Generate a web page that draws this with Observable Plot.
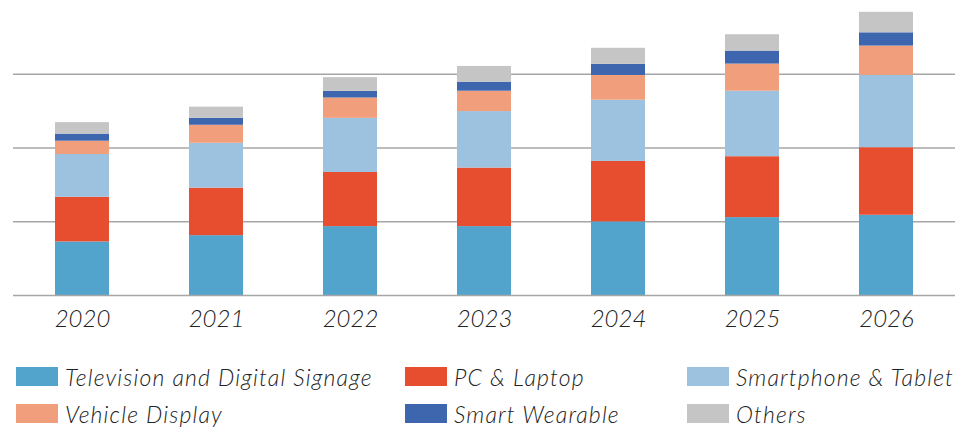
<!DOCTYPE html>
<html>
<head>
<meta charset="utf-8">
<script src="https://cdn.jsdelivr.net/npm/d3@7"></script>
<script src="https://cdn.jsdelivr.net/npm/@observablehq/plot@0.6"></script>
<style>
  html, body { margin: 0; padding: 0; background: #fff; }
  #wrap { position: relative; width: 955px; height: 427px; font-family: Lato, "Open Sans", sans-serif; overflow: hidden; }
  .leg { position: absolute; display: flex; align-items: center; font-style: italic; font-weight: 300; font-size: 23px; letter-spacing: 1.15px; color: #222; white-space: nowrap; }
  .sw { width: 42px; height: 19px; margin-right: 7px; flex: none; }
</style>
</head>
<body>
<div id="wrap"><div id="chart"></div></div>
<script>
const years = ["2020", "2021", "2022", "2023", "2024", "2025", "2026"];
const seriesNames = ["Television and Digital Signage", "PC & Laptop", "Smartphone & Tablet", "Vehicle Display", "Smart Wearable", "Others"];
const colors = ["#52a4cc", "#e74e30", "#9dc2df", "#f19e7c", "#3d66af", "#c5c5c5"];
const television = [36.3, 40.6, 46.7, 46.7, 49.9, 52.8, 54.4];
const pcLaptop   = [30.3, 32.2, 36.7, 39.7, 41.0, 41.3, 45.8];
const smartphone = [29.0, 30.4, 36.7, 38.3, 41.5, 44.4, 49.0];
const vehicle    = [9.0, 12.2, 13.8, 13.8, 16.8, 18.4, 19.9];
const wearable   = [4.8, 4.8, 4.5, 6.1, 7.5, 8.8, 9.0];
const others     = [7.8, 7.5, 9.3, 10.7, 10.9, 11.1, 13.9];
const gridValues = [0, 50, 100, 150];

const seriesValues = [television, pcLaptop, smartphone, vehicle, wearable, others];
const data = [];
years.forEach((yr, i) => {
  seriesNames.forEach((s, j) => data.push({year: yr, series: s, value: seriesValues[j][i]}));
});

const chart = Plot.plot({
  width: 955,
  height: 345,
  marginLeft: 13,
  marginRight: 0,
  marginTop: 0,
  marginBottom: 50,
  style: {fontFamily: "Lato, 'Open Sans', sans-serif", background: "white"},
  x: {domain: years, paddingInner: 0.6, paddingOuter: 0.3, label: null},
  y: {domain: [0, 200], axis: null},
  color: {domain: seriesNames, range: colors},
  marks: [
    Plot.ruleY(gridValues.slice(1), {stroke: "#a6a6a6", strokeWidth: 1.5}),
    Plot.barY(data, {x: "year", y: "value", fill: "series"}),
    Plot.ruleY([0], {stroke: "#a6a6a6", strokeWidth: 1.5}),
    Plot.axisX({tickSize: 0, tickPadding: 14, fontSize: 24, label: null})
  ]
});
chart.querySelectorAll('[aria-label="x-axis tick label"] text').forEach(t => {
  t.setAttribute("font-style", "italic");
  t.setAttribute("font-weight", "300");
  t.setAttribute("fill", "#222");
});
document.getElementById("chart").appendChild(chart);

const legendPos = [
  [16, 367], [405, 367], [687, 367],
  [16, 404], [405, 404], [687, 404]
];
const wrap = document.getElementById("wrap");
seriesNames.forEach((s, i) => {
  const d = document.createElement("div");
  d.className = "leg";
  d.style.left = legendPos[i][0] + "px";
  d.style.top = legendPos[i][1] + "px";
  d.style.height = "19px";
  const sw = document.createElement("div");
  sw.className = "sw";
  sw.style.background = colors[i];
  const tx = document.createElement("span");
  tx.textContent = s;
  d.appendChild(sw);
  d.appendChild(tx);
  wrap.appendChild(d);
});
</script>
</body>
</html>
